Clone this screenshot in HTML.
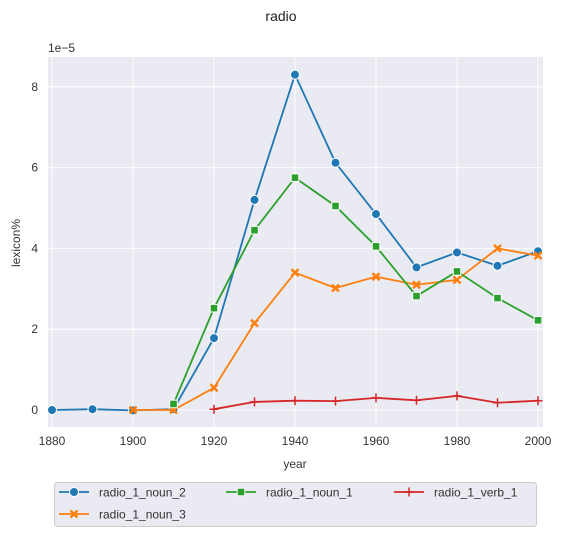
<!DOCTYPE html>
<html><head><meta charset="utf-8"><style>
body{margin:0;background:#fff;}
svg{font-family:"Liberation Sans",Arial,sans-serif;}
</style></head><body>
<svg id="chart" width="563" height="537" xmlns="http://www.w3.org/2000/svg">
<text x="281" y="21" text-anchor="middle" font-size="14" fill="#222">radio</text>
<rect x="48" y="57" width="495" height="370" fill="#eaeaf2"/>
<g id="grid"></g>
<g id="series"></g>
<text x="48" y="52" font-size="12" fill="#333">1e−5</text>
<text x="20" y="243" font-size="12" fill="#333" text-anchor="middle" transform="rotate(-90 20 243)">lexicon%</text>
<text x="295" y="468" font-size="12" fill="#333" text-anchor="middle">year</text>
<g>
<rect x="54.5" y="482.5" width="482" height="44" rx="3" fill="#eaeaf2" stroke="#ccc"/>
<g id="legend"></g>
</g>
</svg>
<script>
const years=[1880,1890,1900,1910,1920,1930,1940,1950,1960,1970,1980,1990,2000];
const noun2=[0,0.02,-0.01,0.02,1.78,5.2,8.3,6.12,4.85,3.53,3.9,3.57,3.93];
const noun3=[null,null,0,0,0.55,2.15,3.4,3.02,3.3,3.1,3.22,4.0,3.82];
const noun1=[null,null,null,0.15,2.52,4.45,5.75,5.05,4.05,2.82,3.43,2.77,2.22];
const verb1=[null,null,null,null,0.02,0.2,0.23,0.22,0.3,0.24,0.35,0.18,0.23];
const xTicks=[1880,1900,1920,1940,1960,1980,2000];
const yTicks=[0,2,4,6,8];
const NS="http://www.w3.org/2000/svg";
const x=v=>52+(v-1880)*4.05;
const y=v=>410-v*40.4;
function mk(t,a,p){const e=document.createElementNS(NS,t);for(const k in a)e.setAttribute(k,a[k]);p.appendChild(e);return e;}
const grid=document.getElementById('grid');
const svg=document.getElementById('chart');
xTicks.forEach(t=>{
 const l=mk('line',{x1:x(t),x2:x(t),y1:57,y2:427,stroke:'#fff','stroke-width':1},grid);
 
 
 const tx=mk('text',{x:x(t),y:445,'text-anchor':'middle','font-size':12,fill:'#333'},svg);
 tx.textContent=t;
 
 
});
yTicks.forEach(t=>{
 const l=mk('line',{x1:48,x2:543,y1:y(t),y2:y(t),stroke:'#fff','stroke-width':1},grid);
 
 
 const tx=mk('text',{x:38,y:y(t)+4,'text-anchor':'end','font-size':12,fill:'#333'},svg);
 tx.textContent=t;
 
 
});
function marker(kind,cx,cy,color,p){
 if(kind==='o')return mk('circle',{cx,cy,r:4.5,fill:color,stroke:'#fff','stroke-width':1},p);
 if(kind==='s')return mk('rect',{x:cx-3.8,y:cy-3.8,width:7.6,height:7.6,fill:color,stroke:'#fff','stroke-width':1},p);
 if(kind==='x')return mk('path',{d:`M${cx-3.5} ${cy-3.5}L${cx+3.5} ${cy+3.5}M${cx+3.5} ${cy-3.5}L${cx-3.5} ${cy+3.5}`,stroke:color,'stroke-width':2.5},p);
 return mk('path',{d:`M${cx-4.5} ${cy}H${cx+4.5}M${cx} ${cy-4.5}V${cy+4.5}`,stroke:color,'stroke-width':1.5},p);
}
const series=[
 ['radio_1_noun_2',noun2,'#1f77b4','o'],
 ['radio_1_noun_3',noun3,'#ff7f0e','x'],
 ['radio_1_noun_1',noun1,'#2ca02c','s'],
 ['radio_1_verb_1',verb1,'#d62728','+']];
const sg=document.getElementById('series');
series.forEach(([name,vals,color,m])=>{
 const g=mk('g',{},sg);
 
 
 const pts=[];vals.forEach((v,i)=>{if(v!==null)pts.push([x(years[i]),y(v)]);});
 const pl=mk('polyline',{points:pts.map(p=>p.join(',')).join(' '),fill:'none',stroke:color,'stroke-width':1.8},g);
 
 
 pts.forEach(p=>{const e=marker(m,p[0],p[1],color,g);
  
  });
});
const lg=document.getElementById('legend');
const lpos=[[59,492],[59,514],[226,492],[394,492]];
series.forEach(([name,vals,color,m],i)=>{
 const [lx,ly]=lpos[i];
 const g=mk('g',{},lg);
 
 
 mk('line',{x1:lx,x2:lx+30,y1:ly,y2:ly,stroke:color,'stroke-width':1.8},g);
 marker(m,lx+15,ly,color,g);
 const t=mk('text',{x:lx+40,y:ly+4.5,'font-size':12,fill:'#333'},g);
 t.textContent=name;
});
</script>
</body></html>
